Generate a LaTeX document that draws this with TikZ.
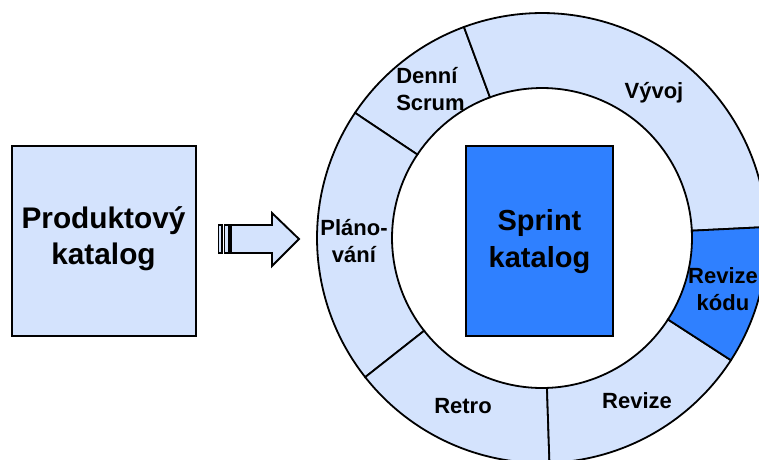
\documentclass[tikz,border=0pt]{standalone}
\usepackage{fontspec}
\setmainfont{Liberation Sans}
\usetikzlibrary{calc}
\definecolor{lightb}{HTML}{D4E3FD}
\definecolor{darkb}{HTML}{2F80FF}
\tikzset{
  seg/.style={draw=black,line width=1.8pt,fill=lightb},
  segdark/.style={seg,fill=darkb},
  bigbox/.style={draw=black,line width=2pt,anchor=north west,inner sep=0pt,outer sep=0pt},
  biglab/.style={align=center,font=\fontsize{29.8}{36}\bfseries\selectfont,inner sep=0pt},
  lab/.style={align=center,font=\fontsize{22}{27}\bfseries\selectfont,inner sep=0pt},
  arr/.style={draw=black,line width=1.9pt,fill=lightb,line join=miter},
}
\newcommand{\ringseg}[3]{%
  \draw[#3] ($(C)+(#1:225)$) arc[start angle=#1,end angle=#2,radius=225]
    -- ($(C)+(#2:150)$) arc[start angle=#2,end angle=#1,radius=150] -- cycle;}
\begin{document}
\begin{tikzpicture}[x=1pt,y=-1pt]
\useasboundingbox (0,0) rectangle (759,459);
\clip (0,0) rectangle (759,459);
\coordinate (C) at (542,238);
% ring (angles measured clockwise on screen because y is flipped)
\ringseg{-110.3}{-146.2}{seg}
\ringseg{-146.2}{-218.2}{seg}
\ringseg{-218.2}{-271.9}{seg}
\ringseg{-271.9}{-327.1}{seg}
\ringseg{-2.8}{-110.3}{seg}
\ringseg{-327.1}{-362.8}{segdark}
% boxes
\node[bigbox,fill=lightb,minimum width=184pt,minimum height=190pt] (pb) at (12,146) {};
\node[biglab] (pbl) at (103.5,238.5) {Produktový\\katalog};
\node[bigbox,fill=darkb,minimum width=147pt,minimum height=190pt] (sb) at (466,146) {};
\node[biglab,font=\fontsize{29}{37}\bfseries\selectfont] (sbl) at (539.5,241.5) {Sprint\\katalog};
% arrow
\draw[arr] (218.5,225) rectangle (222,253);
\draw[arr] (224.5,225) rectangle (229,253);
\draw[arr] (231,225) -- (272,225) -- (272,213) -- (299,239) -- (272,266) -- (272,253) -- (231,253) -- cycle;
% labels
\node[lab,align=left] (l2) at (430.5,89) {Denní\\Scrum};
\node[lab] (l1) at (654,93) {Vývoj};
\node[lab] (l3) at (354,241) {Pláno-\\vání};
\node[lab] (l4) at (463,406) {Retro};
\node[lab] (l5) at (637,401) {Revize};
\node[lab] (l6) at (723,289) {Revize\\kódu};
\end{tikzpicture}
\end{document}
